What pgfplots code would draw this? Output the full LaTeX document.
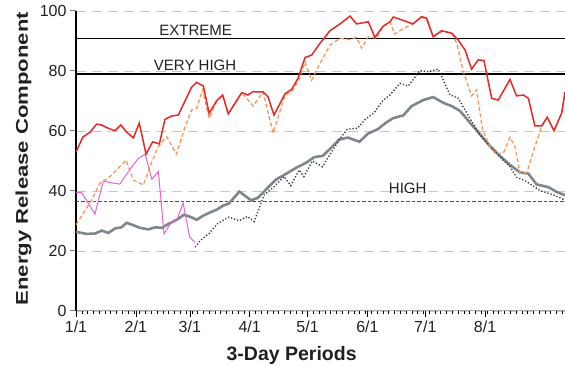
\documentclass[border=0pt]{standalone}
\usepackage{pgfplots}
\pgfplotsset{compat=1.18}
\usepackage{fontspec}
\setmainfont{Liberation Sans}
\usepackage{graphicx}
\definecolor{cred}{RGB}{232,40,40}
\definecolor{corange}{RGB}{244,150,90}
\definecolor{cmag}{RGB}{228,100,200}
\definecolor{cgray}{RGB}{125,135,140}
\definecolor{cdot}{RGB}{50,50,55}
\definecolor{cgrid}{RGB}{200,200,205}
\definecolor{ctext}{RGB}{35,31,32}
\begin{document}
\begin{tikzpicture}
\begin{axis}[
  at={(0,0)}, anchor=south west,
  scale only axis, width=489pt, height=300pt,
  xmin=1, xmax=254.4, ymin=0, ymax=100,
  axis x line*=bottom, axis y line*=left,
  x axis line style={draw=gray!70, line width=1pt, -},
  y axis line style={draw=black, line width=1.3pt, -},
  xtick={1,32,60,91,121,152,182,213},
  xticklabels={1/1,2/1,3/1,4/1,5/1,6/1,7/1,8/1},
  minor xtick={1,4,...,254},
  ytick={0,20,40,60,80,100},
  tick align=outside,
  major tick length=6pt, minor tick length=3.5pt,
  xtick style={black, line width=0.6pt},
  minor x tick style={black, line width=0.5pt},
  ytick style={gray, line width=1pt},
  ymajorgrids,
  major grid style={cgrid, dash pattern=on 10pt off 6pt, line width=0.9pt},
  ticklabel style={font=\fontsize{16}{16}\selectfont, text=ctext},
  /pgf/number format/assume math mode=true,
  xlabel={\fontsize{19.5}{20}\selectfont\bfseries 3-Day Periods},
  xlabel style={at={(axis description cs:0.441,-0.147)}, anchor=center, text=ctext},
  ylabel={\fontsize{17}{17}\selectfont\bfseries\scalebox{1.3}[1]{Energy Release Component}},
  ylabel style={at={(axis description cs:-0.1074,0.508)}, anchor=center, text=ctext},
  clip=true,
]
% threshold lines
\addplot[black, line width=1.6pt] coordinates {(1,90.8) (254.4,90.8)};
\addplot[black, line width=1.6pt] coordinates {(1,79) (254.4,79)};
\addplot[cdot!85, dash pattern=on 3.5pt off 2pt, line width=0.9pt] coordinates {(1,36.4) (254.4,36.4)};

% gray thick
\addplot[cgray, line width=2.6pt] coordinates {
(1,26.4) (6.5,25.7) (10.8,25.8) (14.3,26.8) (17.7,26) (21.2,27.5) (24.6,27.9) (27.2,29.4)
(30.7,28.6) (34.2,27.7) (38.5,27.2) (42,27.9) (45.4,27.7) (48.8,29) (53.2,30.4) (57,32.1)
(60.5,31.3) (63.6,30.4) (66.2,31.5) (69.6,32.6) (74,33.8) (77.4,35.2) (80,35.7) (85.7,39.8)
(91.7,36.9) (95.2,37.7) (99.5,40.5) (104.6,43.8) (109.8,45.7) (115,47.7) (120.2,49.4)
(124.5,51.3) (128.9,51.7) (133.2,54.4) (137.5,57.2) (141.9,57.8) (147.9,56.4) (152.2,59.1)
(157.4,60.6) (161.7,62.8) (165.4,64.3) (170.6,65.2) (174.9,68.3) (180.9,70.3) (186.1,71.3)
(191.3,69.4) (195.7,68.3) (200,66.7) (205.1,62.8) (210.3,58.9) (215.5,55) (220.7,51.7)
(225.9,48.7) (231.1,46.2) (235.4,45.8) (239.7,42.2) (245.7,41.3) (250.1,39.7) (254.4,38.6)
};

% black dotted
\addplot[cdot, line width=1.4pt, dash pattern=on 1.2pt off 2pt] coordinates {
(62.7,21.3) (65.6,23.6) (69.9,25.8) (74.2,29) (77.7,30.4) (80.3,31.3) (85.5,30.1) (89.8,31.5)
(93.3,29.8) (98.5,38.7) (103.7,41.5) (108.8,44.8) (112.3,41.8) (116.6,47) (119.1,44.8)
(123.5,50) (128.7,48.1) (133,52.6) (138.2,57.8) (141.6,60.6) (146.8,60.9) (151.1,64)
(155.4,66) (159.8,70) (163.7,72) (168.9,75.9) (173.2,75) (179.2,80.1) (183.5,79.8)
(188.7,80.6) (191.3,77) (194.8,72) (199.1,70.9) (205.1,64.2) (210.3,58.9) (215.5,54.8)
(220.7,51.4) (225.9,48.1) (229.3,44.6) (234.6,43.1) (241.5,40.1) (248.4,38.7) (254.4,37)
};

% magenta
\addplot[cmag, line width=1pt] coordinates {
(1,39.5) (3.9,39.5) (10.8,32.3) (15.2,43.4) (18.6,42.8) (23.7,42.3) (29.4,47.6) (33.4,50.9)
(36.8,52.3) (40.3,43.9) (43.7,46.5) (46.6,25.7) (50.1,29.3) (53.5,30.7) (56.5,36) (59.9,24.6)
(62.7,22.9)
};

% orange dashed
\addplot[corange, line width=1.3pt, dash pattern=on 4pt off 2.5pt] coordinates {
(1,28.7) (4.8,32.6) (9.1,37) (13.4,42.6) (18.6,44.8) (22.9,47.6) (26.9,50.3) (30.7,43.7)
(35.9,42) (39.3,48.1) (43.6,54.8) (48,58.1) (53.1,52.3) (57.5,61.4) (60.9,67) (63.5,67.5)
(66.6,73.7) (70,64.2) (73.9,69.8) (77,72) (79.9,65.7) (86.9,72.8) (92.8,68.3) (97.9,73)
(103.2,59.3) (109.3,72) (112.8,73) (116.9,77.5) (119.7,83) (123.1,76.9) (127.4,82.5)
(132.6,88.6) (137.8,90.9) (143,90.5) (146.4,91.2) (149,87.6) (152.5,91.4) (156.8,90.9)
(160.1,94.9) (163.7,96.4) (166.2,92.3) (170.6,94.2) (175.6,95.7) (180.1,98.1) (182.7,97)
(186.1,91.4) (190.5,93.4) (195.7,92.6) (198.3,89.2) (201.7,79.8) (206,71.7) (208.6,73.7)
(211.7,60.3) (215.5,54.8) (218.1,52.6) (222.4,52.6) (225.9,57.9) (228.5,54.8) (231.1,45.9)
(234.6,46.1) (238.8,54.8) (242.3,61.5) (245.2,64.6) (248.7,60.1) (252.7,66) (254.4,73)
};

% red solid
\addplot[cred, line width=1.5pt] coordinates {
(1,53) (4.6,58) (8.3,59.6) (11.7,62.3) (14.3,62) (17.7,60.9) (21.2,60.1) (24.2,62)
(27.3,59.6) (30.7,57.7) (33.8,62.6) (37.3,52.3) (40.7,56.4) (44.2,55.7) (47.1,63.9)
(50.6,65) (54,65.3) (57.5,70) (60.9,74.6) (63.5,76.2) (67,75) (70,65.9) (73.9,70.1)
(77,72) (79.9,65.7) (86.9,72.8) (90.1,72) (92.7,73.1) (97.9,73) (100.5,71.4) (103.6,65.3)
(109.3,72.4) (112.8,73.9) (116,77.5) (119.7,84.5) (123.1,85.3) (127.4,89.2) (132.6,93.4)
(137.8,95.7) (143,98.3) (146.4,95.7) (152.5,96.4) (155.9,91.2) (160.1,94.9) (163.7,96.4)
(165.4,98) (170.4,96.9) (175.6,95.7) (180.1,98.1) (182.7,97.6) (186.1,91.4) (190.5,93.4)
(195.7,92.6) (199.1,90.3) (202.6,87) (206,80.6) (209.4,83.7) (212.4,83.5) (216.4,70.9)
(219.8,70.3) (225.9,77.2) (229.3,71.7) (232.8,72) (235.4,70.9) (238.8,61.7) (242.3,61.7)
(245.2,64.6) (248.7,60.1) (252.7,66) (254.4,73)
};

\node[anchor=base, font=\fontsize{15}{15}\selectfont, text=ctext] at (axis cs:63,91.9) {EXTREME};
\node[anchor=base, font=\fontsize{15}{15}\selectfont, text=ctext] at (axis cs:62.7,80.1) {VERY HIGH};
\node[anchor=base, font=\fontsize{15}{15}\selectfont, text=ctext] at (axis cs:172.9,39.2) {HIGH};
\end{axis}
\pgfresetboundingbox
\path[use as bounding box] (-76pt,-55pt) rectangle (489pt,311pt);
\end{tikzpicture}
\end{document}
